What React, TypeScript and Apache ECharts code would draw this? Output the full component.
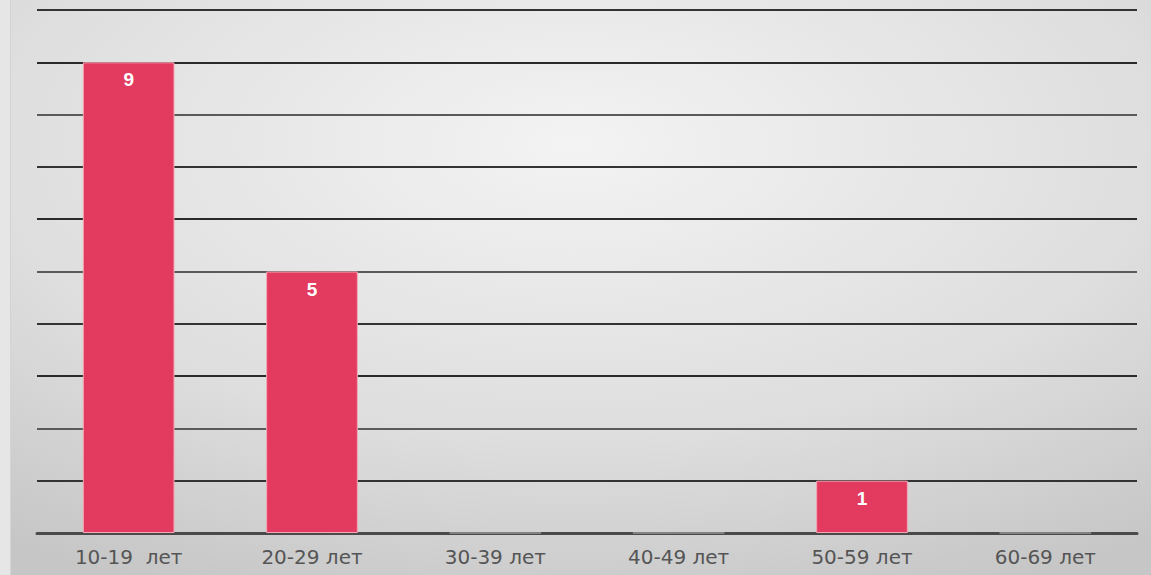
import React, { useEffect, useRef } from "react";
import * as echarts from "echarts";

const categories = ["10-19  лет", "20-29 лет", "30-39 лет", "40-49 лет", "50-59 лет", "60-69 лет"];
const values = [9, 5, 0, 0, 1, 0];
const yMin = 0;
const yMax = 10;
const yInterval = 1;

export default function App() {
  const ref = useRef<HTMLDivElement>(null);
  useEffect(() => {
    if (!ref.current) return;
    const chart = echarts.init(ref.current, undefined, { renderer: "svg" });
    chart.setOption({
      animation: false,
      backgroundColor: new echarts.graphic.RadialGradient(0.5, 0.25, 0.85, [
        { offset: 0, color: "#f3f3f3" },
        { offset: 0.6, color: "#dedede" },
        { offset: 1, color: "#c6c6c6" },
      ]),
      graphic: [
        {
          type: "rect",
          left: 0,
          top: 0,
          shape: { width: 10, height: 575 },
          style: { fill: "#e6e6e6" },
          silent: true,
        },
        {
          type: "line",
          shape: { x1: 10.5, y1: 0, x2: 10.5, y2: 575 },
          style: { stroke: "#d4d4d4", lineWidth: 1 },
          silent: true,
        },
      ],
      grid: { left: 37, right: 14, top: 10, bottom: 42, containLabel: false },
      xAxis: {
        type: "category",
        data: categories,
        axisLine: { show: true, lineStyle: { color: "#4a4a4a", width: 3 } },
        axisTick: { show: false },
        axisLabel: {
          color: "#555",
          fontSize: 20,
          fontFamily: "DejaVu Sans, Liberation Sans, Arial, sans-serif",
          margin: 14,
        },
        z: 1,
      },
      yAxis: {
        type: "value",
        min: yMin,
        max: yMax,
        interval: yInterval,
        axisLine: { show: false },
        axisTick: { show: false },
        axisLabel: { show: false },
        splitLine: { show: true, lineStyle: { color: ["#2a2a2a", "#333", "#5a5a5a"], width: 2 } },
      },
      series: [
        {
          type: "bar",
          barWidth: "50%",
          z: 5,
          data: values.map((v) =>
            v === 0
              ? { value: v, itemStyle: { color: "#959595", borderColor: "#959595", borderWidth: 1.5 }, label: { show: false } }
              : { value: v }
          ),
          itemStyle: { color: "#e23b5f", borderColor: "#f4a7b6", borderWidth: 1 },
          label: {
            show: true,
            position: "insideTop",
            distance: 8,
            color: "#fff",
            fontWeight: "bold",
            fontSize: 19,
            fontFamily: "Liberation Sans, Arial, sans-serif",
          },
        },
      ],
    });
    return () => chart.dispose();
  }, []);
  return <div ref={ref} style={{ position: "absolute", left: 0, top: 0, width: 1151, height: 575 }} />;
}
